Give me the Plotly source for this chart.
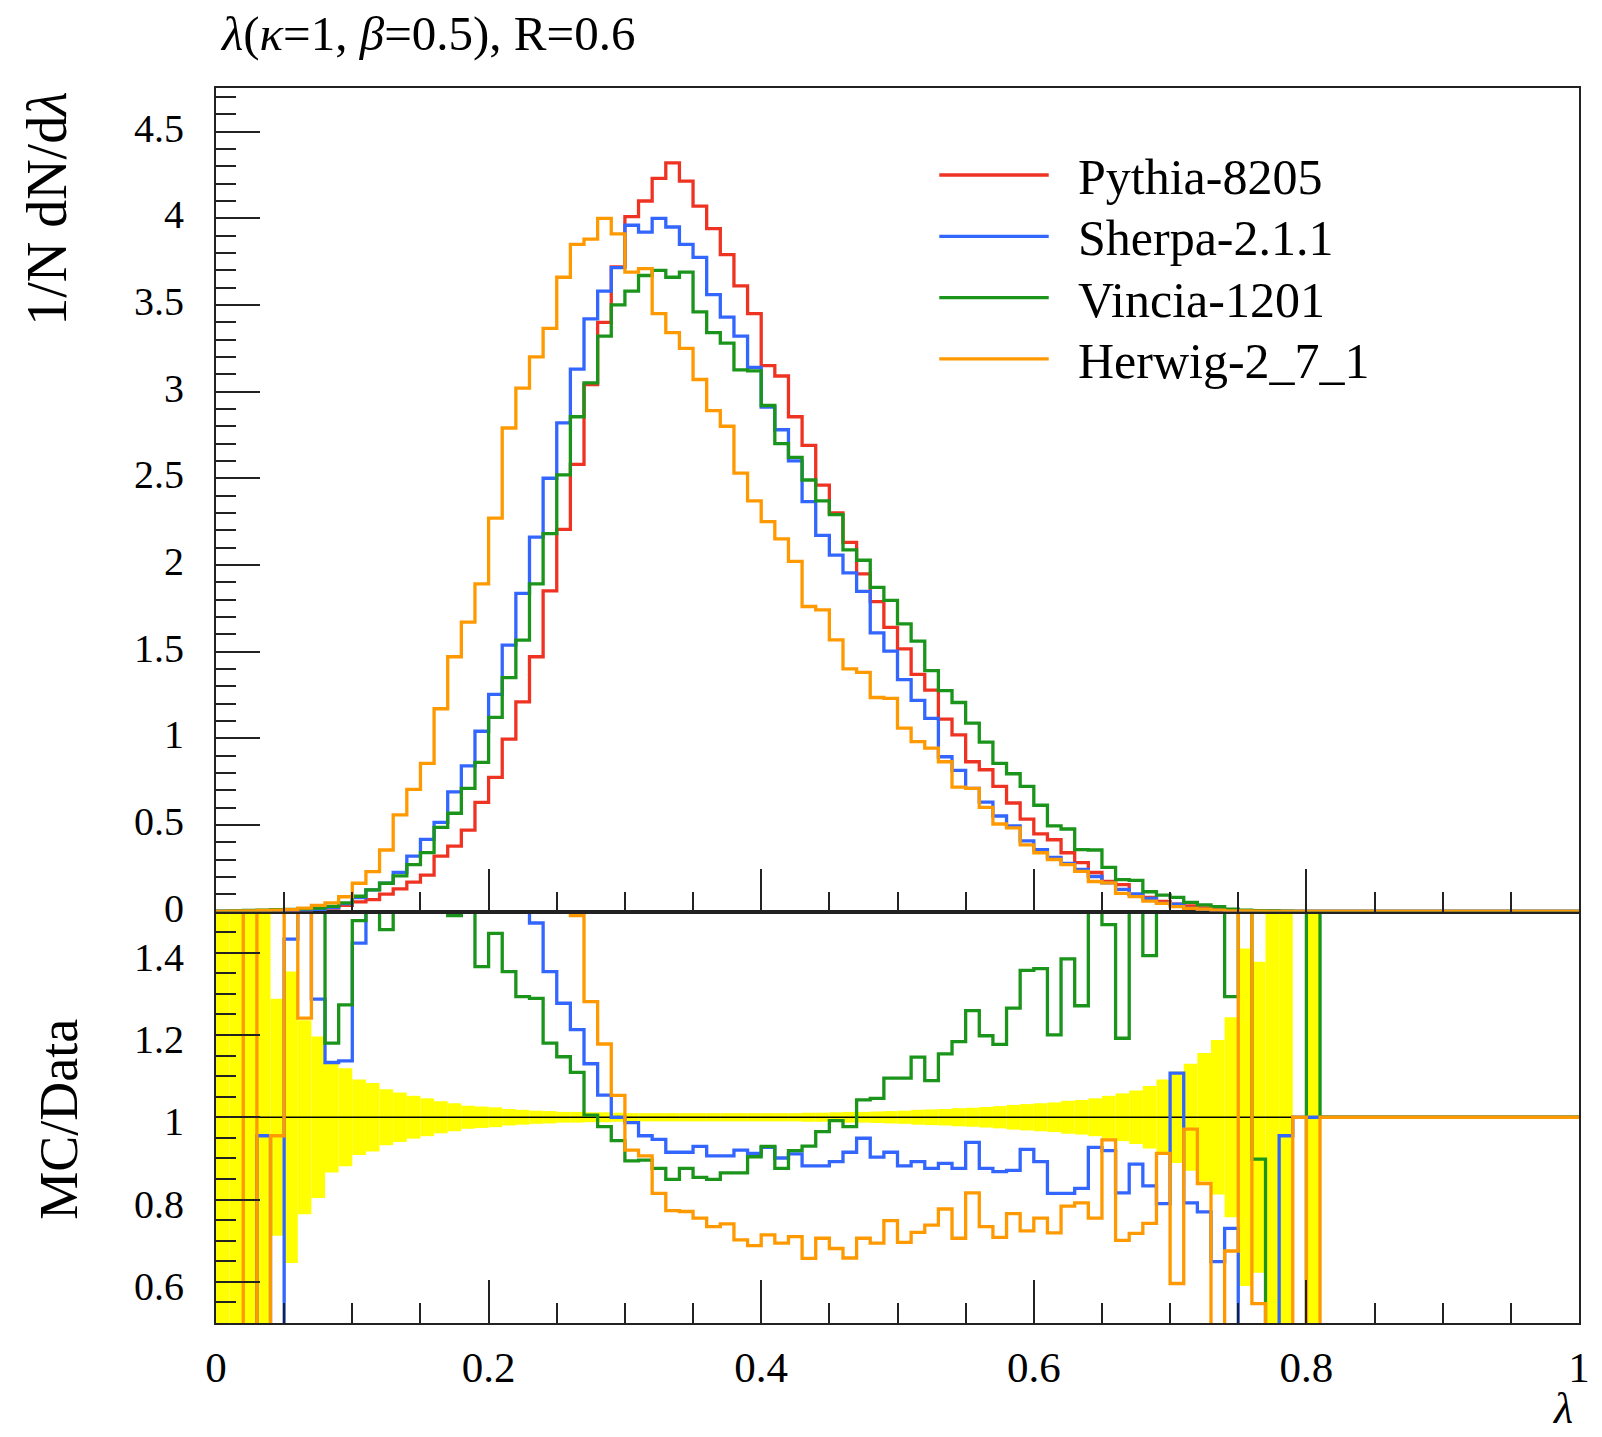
import plotly.graph_objects as go

# ---------------- data ----------------
bin_edges = [round(i * 0.01, 2) for i in range(101)]
series_names = ["Pythia-8205", "Sherpa-2.1.1", "Vincia-1201", "Herwig-2_7_1"]
series_colors = ["#ee3322", "#3366ff", "#1a941a", "#ff9900"]

pythia = [0.0005, 0.001, 0.002, 0.004, 0.006, 0.008, 0.01, 0.014, 0.02, 0.035,
          0.055, 0.068, 0.10, 0.13, 0.17, 0.21, 0.32, 0.377, 0.47, 0.63,
          0.774, 0.995, 1.21, 1.47, 1.85, 2.205, 2.58, 3.04, 3.40, 3.72,
          4.01, 4.10, 4.23, 4.32, 4.215, 4.07, 3.94, 3.79, 3.61, 3.45,
          3.15, 3.09, 2.855, 2.69, 2.46, 2.30, 2.13, 1.948, 1.788, 1.64,
          1.516, 1.368, 1.277, 1.11, 1.019, 0.864, 0.818, 0.722, 0.626, 0.533,
          0.448, 0.414, 0.339, 0.282, 0.225, 0.173, 0.155, 0.097, 0.082, 0.059,
          0.043, 0.033, 0.021, 0.014, 0.008, 0.005, 0.003, 0.002, 0.001, 0.0,
          0.0005, 0, 0, 0, 0, 0, 0, 0, 0, 0,
          0, 0, 0, 0, 0, 0, 0, 0, 0, 0]

sherpa = [0.0, 0.0, 0.001, 0.003, 0.004, 0.006, 0.008, 0.012, 0.022, 0.045,
          0.08, 0.125, 0.163, 0.226, 0.32, 0.416, 0.514, 0.69, 0.84, 1.04,
          1.253, 1.537, 1.836, 2.16, 2.50, 2.82, 3.13, 3.42, 3.58, 3.715,
          3.96, 3.92, 4.0, 3.95, 3.85, 3.775, 3.56, 3.43, 3.32, 3.14,
          2.91, 2.78, 2.60, 2.365, 2.17, 2.057, 1.954, 1.847, 1.608, 1.503,
          1.338, 1.218, 1.115, 0.893, 0.814, 0.711, 0.631, 0.551, 0.494, 0.407,
          0.357, 0.312, 0.278, 0.243, 0.202, 0.165, 0.128, 0.101, 0.076, 0.047,
          0.043, 0.018, 0.012, 0.008, 0.005, 0.003, 0.002, 0.001, 0.001, 0.0,
          0, 0, 0, 0, 0, 0, 0, 0, 0, 0,
          0, 0, 0, 0, 0, 0, 0, 0, 0, 0]

vincia = [0.002, 0.004, 0.006, 0.008, 0.01, 0.012, 0.016, 0.02, 0.03, 0.05,
          0.088, 0.125, 0.163, 0.205, 0.27, 0.34, 0.485, 0.567, 0.71, 0.86,
          1.12, 1.35, 1.566, 1.89, 2.18, 2.52, 2.855, 3.05, 3.32, 3.50,
          3.58, 3.67, 3.70, 3.66, 3.69, 3.46, 3.34, 3.28, 3.125, 3.12,
          2.92, 2.70, 2.62, 2.49, 2.37, 2.29, 2.087, 2.027, 1.87, 1.795,
          1.66, 1.56, 1.39, 1.274, 1.206, 1.087, 0.977, 0.855, 0.795, 0.722,
          0.613, 0.494, 0.476, 0.357, 0.355, 0.255, 0.184, 0.18, 0.114, 0.095,
          0.082, 0.053, 0.038, 0.028, 0.014, 0.008, 0.005, 0.003, 0.002, 0.001,
          0.001, 0, 0, 0, 0, 0, 0, 0, 0, 0,
          0, 0, 0, 0, 0, 0, 0, 0, 0, 0]

herwig = [0.001, 0.002, 0.004, 0.006, 0.008, 0.01, 0.02, 0.035, 0.05, 0.085,
          0.163, 0.23, 0.355, 0.557, 0.705, 0.855, 1.17, 1.47, 1.67, 1.89,
          2.27, 2.79, 3.02, 3.20, 3.365, 3.66, 3.85, 3.88, 4.0, 3.91,
          3.69, 3.71, 3.45, 3.34, 3.25, 3.07, 2.89, 2.80, 2.53, 2.37,
          2.25, 2.15, 2.02, 1.76, 1.74, 1.567, 1.40, 1.38, 1.235, 1.23,
          1.058, 0.98, 0.943, 0.864, 0.718, 0.71, 0.601, 0.505, 0.482, 0.384,
          0.339, 0.30, 0.27, 0.231, 0.173, 0.165, 0.105, 0.086, 0.06, 0.047,
          0.028, 0.018, 0.014, 0.008, 0.004, 0.003, 0.002, 0.001, 0.001, 0.0,
          0, 0, 0, 0, 0, 0, 0, 0, 0, 0,
          0, 0, 0, 0, 0, 0, 0, 0, 0, 0]

# MC / Data ratios (values beyond the 0.5-1.5 window are read as off-scale)
ratio_sherpa = [0.3, 0.3, 0.3, 0.955, 0.3, 1.433, 2.0, 1.287, 1.133, 1.137,
                1.423, 2.0, 2.0, 2.0, 2.0, 2.0, 2.0, 2.0, 2.0, 2.0,
                2.0, 2.0, 2.0, 1.472, 1.354, 1.277, 1.213, 1.13, 1.054, 1.0,
                0.987, 0.955, 0.946, 0.915, 0.915, 0.929, 0.906, 0.906, 0.920, 0.912,
                0.927, 0.901, 0.911, 0.882, 0.882, 0.892, 0.915, 0.949, 0.903, 0.915,
                0.882, 0.892, 0.876, 0.888, 0.876, 0.939, 0.876, 0.868, 0.871, 0.922,
                0.892, 0.815, 0.815, 0.827, 0.927, 0.919, 0.816, 0.886, 0.833, 0.79,
                1.107, 0.792, 0.770, 0.649, 0.73, 0.3, 0.3, 0.3, 0.955, 1.0,
                1.0, 1.0, 1.0, 1.0, 1.0, 1.0, 1.0, 1.0, 1.0, 1.0,
                1.0, 1.0, 1.0, 1.0, 1.0, 1.0, 1.0, 1.0, 1.0, 1.0]

ratio_vincia = [2.0, 2.0, 2.0, 2.0, 2.0, 2.0, 2.0, 2.0, 1.18, 1.273,
                1.478, 2.0, 1.456, 2.0, 2.0, 2.0, 2.0, 1.49, 2.0, 1.366,
                1.447, 1.354, 1.293, 1.289, 1.18, 1.147, 1.109, 1.005, 0.977, 0.943,
                0.894, 0.896, 0.876, 0.849, 0.876, 0.854, 0.849, 0.865, 0.865, 0.904,
                0.929, 0.876, 0.919, 0.930, 0.965, 0.992, 0.977, 1.042, 1.046, 1.095,
                1.095, 1.146, 1.089, 1.154, 1.184, 1.259, 1.198, 1.177, 1.265, 1.357,
                1.361, 1.2, 1.385, 1.271, 2.0, 1.468, 1.192, 2.0, 1.393, 2.0,
                2.0, 2.0, 2.0, 2.0, 1.293, 2.0, 0.898, 0.3, 0.3, 0.3,
                2.0, 1.0, 1.0, 1.0, 1.0, 1.0, 1.0, 1.0, 1.0, 1.0,
                1.0, 1.0, 1.0, 1.0, 1.0, 1.0, 1.0, 1.0, 1.0, 1.0]

ratio_herwig = [0.3, 0.3, 2.0, 0.3, 0.955, 2.0, 1.241, 2.0, 2.0, 2.0,
                2.0, 2.0, 2.0, 2.0, 2.0, 2.0, 2.0, 2.0, 2.0, 2.0,
                2.0, 2.0, 2.0, 2.0, 2.0, 2.0, 1.49, 1.281, 1.178, 1.053,
                0.920, 0.906, 0.815, 0.773, 0.771, 0.755, 0.734, 0.741, 0.702, 0.688,
                0.714, 0.694, 0.71, 0.657, 0.706, 0.681, 0.658, 0.706, 0.694, 0.749,
                0.696, 0.72, 0.738, 0.777, 0.706, 0.816, 0.734, 0.708, 0.766, 0.724,
                0.755, 0.719, 0.784, 0.792, 0.755, 0.945, 0.701, 0.718, 0.742, 0.912,
                0.596, 0.971, 0.839, 0.3, 0.675, 2.0, 0.547, 0.3, 0.3, 1.0,
                0.3, 1.0, 1.0, 1.0, 1.0, 1.0, 1.0, 1.0, 1.0, 1.0,
                1.0, 1.0, 1.0, 1.0, 1.0, 1.0, 1.0, 1.0, 1.0, 1.0]

# half-width of the reference uncertainty band
ref_band = [0.8, 0.8, 0.8, 0.8, 0.288, 0.354, 0.236, 0.196, 0.134, 0.119,
            0.092, 0.083, 0.068, 0.06, 0.052, 0.046, 0.039, 0.034, 0.028, 0.026,
            0.024, 0.02, 0.018, 0.016, 0.015, 0.013, 0.013, 0.012, 0.012, 0.011,
            0.01, 0.01, 0.01, 0.01, 0.01, 0.01, 0.01, 0.01, 0.01, 0.01,
            0.01, 0.01, 0.01, 0.011, 0.011, 0.012, 0.013, 0.013, 0.014, 0.015,
            0.016, 0.018, 0.019, 0.02, 0.022, 0.023, 0.025, 0.027, 0.03, 0.032,
            0.034, 0.036, 0.04, 0.042, 0.046, 0.052, 0.058, 0.065, 0.076, 0.092,
            0.111, 0.13, 0.156, 0.188, 0.243, 0.41, 0.378, 0.8, 0.8, 0.0,
            0.8, 0, 0, 0, 0, 0, 0, 0, 0, 0,
            0, 0, 0, 0, 0, 0, 0, 0, 0, 0]

title_text = "<i>λ</i>(<i>κ</i>=1, <i>β</i>=0.5), R=0.6"
ytitle_top = "1/N dN/d<i>λ</i>"
ytitle_bottom = "MC/Data"
xtitle = "<i>λ</i>"

# ---------------- layout geometry ----------------
FONT = "Liberation Serif"
W, H = 1602, 1437
ML, MR, MT, MB = 216, 16, 88, 114
PW = W - ML - MR
PH = H - MT - MB
SPLIT_PX = 911.5


def xp(px):
    return (px - ML) / PW


def yp(py):
    return (H - MB - py) / PH


split = yp(SPLIT_PX)

fig = go.Figure()

# top panel step histograms
for name, color, vals in zip(series_names, series_colors, [pythia, sherpa, vincia, herwig]):
    fig.add_trace(go.Scatter(
        x=bin_edges, y=list(vals) + [vals[-1]], mode="lines", line_shape="hv",
        line=dict(color=color, width=3.3), name=name, xaxis="x2", yaxis="y2",
        hoverinfo="skip"))

# ratio panel: yellow band
centers = [(bin_edges[i] + bin_edges[i + 1]) / 2 for i in range(len(ref_band))]
fig.add_trace(go.Bar(
    x=centers, y=[2 * b for b in ref_band], base=[1 - b for b in ref_band],
    width=0.01, marker=dict(color="#ffff00", line=dict(width=0)),
    xaxis="x", yaxis="y", hoverinfo="skip", showlegend=False))

# reference line
fig.add_trace(go.Scatter(x=[bin_edges[0], bin_edges[-1]], y=[1, 1], mode="lines",
                         line=dict(color="black", width=1.5), xaxis="x", yaxis="y",
                         hoverinfo="skip", showlegend=False))

for color, vals in zip(series_colors[1:], [ratio_sherpa, ratio_vincia, ratio_herwig]):
    fig.add_trace(go.Scatter(
        x=bin_edges, y=list(vals) + [vals[-1]], mode="lines", line_shape="hv",
        line=dict(color=color, width=3.3), xaxis="x", yaxis="y",
        hoverinfo="skip", showlegend=False))

LC = "#222222"
common = dict(showline=True, linecolor=LC, linewidth=2, mirror=True, ticks="inside",
              tickcolor=LC, tickwidth=2, showgrid=False, zeroline=False)
xfont = dict(family=FONT, size=43, color="black")
yfont = dict(family=FONT, size=40, color="black")

fig.update_layout(
    width=W, height=H,
    margin=dict(l=ML, r=MR, t=MT, b=MB),
    paper_bgcolor="white", plot_bgcolor="white",
    showlegend=False, barmode="overlay",
    xaxis=dict(**common, tickfont=xfont, domain=[0, 1], anchor="y", range=[0, 1],
               tickmode="linear", tick0=0, dtick=0.2, ticklen=43,
               ticklabelstandoff=5,
               minor=dict(tick0=0, dtick=0.05, ticklen=20, ticks="inside",
                          tickcolor=LC, tickwidth=2)),
    xaxis2=dict(**common, tickfont=xfont, domain=[0, 1], anchor="y2", range=[0, 1],
                matches="x", showticklabels=False,
                tickmode="linear", tick0=0, dtick=0.2, ticklen=43,
                minor=dict(tick0=0, dtick=0.05, ticklen=20, ticks="inside",
                           tickcolor=LC, tickwidth=2)),
    yaxis=dict(**common, tickfont=yfont, domain=[0, split], anchor="x",
               range=[0.5, 1.5],
               tickmode="linear", tick0=0.6, dtick=0.2, ticklen=44,
               ticklabelstandoff=22, ticklabelshift=4,
               minor=dict(tick0=0.5, dtick=0.05, ticklen=20, ticks="inside",
                          tickcolor=LC, tickwidth=2)),
    yaxis2=dict(**common, tickfont=yfont, domain=[split, 1], anchor="x2",
                range=[0, 4.752],
                tickmode="linear", tick0=0, dtick=0.5, ticklen=44,
                ticklabelstandoff=22, ticklabelshift=-4,
                minor=dict(tick0=0, dtick=0.1, ticklen=20, ticks="inside",
                           tickcolor=LC, tickwidth=2)),
)

annotations = [
    dict(text=title_text, x=xp(218), y=yp(34), xref="paper", yref="paper",
         xanchor="left", yanchor="middle", showarrow=False,
         font=dict(family=FONT, size=49, color="black")),
    dict(text=ytitle_top, x=xp(46), y=yp(90), xref="paper", yref="paper",
         xanchor="center", yanchor="top", textangle=-90, showarrow=False,
         font=dict(family=FONT, size=56, color="black")),
    dict(text=ytitle_bottom, x=xp(58), y=yp(1119), xref="paper", yref="paper",
         xanchor="center", yanchor="middle", textangle=-90, showarrow=False,
         font=dict(family=FONT, size=54, color="black")),
    dict(text=xtitle, x=xp(1582), y=yp(1435), xref="paper", yref="paper",
         xanchor="right", yanchor="bottom", showarrow=False,
         font=dict(family=FONT, size=44, color="black")),
]

# legend (drawn manually to match the long line samples)
legend_y0, legend_dy = 175, 61.3
shapes = []
for i, (name, color) in enumerate(zip(series_names, series_colors)):
    ypx = legend_y0 + i * legend_dy
    shapes.append(dict(type="line", xref="paper", yref="paper",
                       x0=xp(943), x1=xp(1053), y0=yp(ypx), y1=yp(ypx),
                       line=dict(color=color, width=3.3)))
    annotations.append(dict(text=name, x=xp(1080), y=yp(ypx + 2), xref="paper",
                            yref="paper", xanchor="left", yanchor="middle",
                            showarrow=False,
                            font=dict(family=FONT, size=50, color="black")))

fig.update_layout(annotations=annotations, shapes=shapes)

fig.write_html("out.html")
